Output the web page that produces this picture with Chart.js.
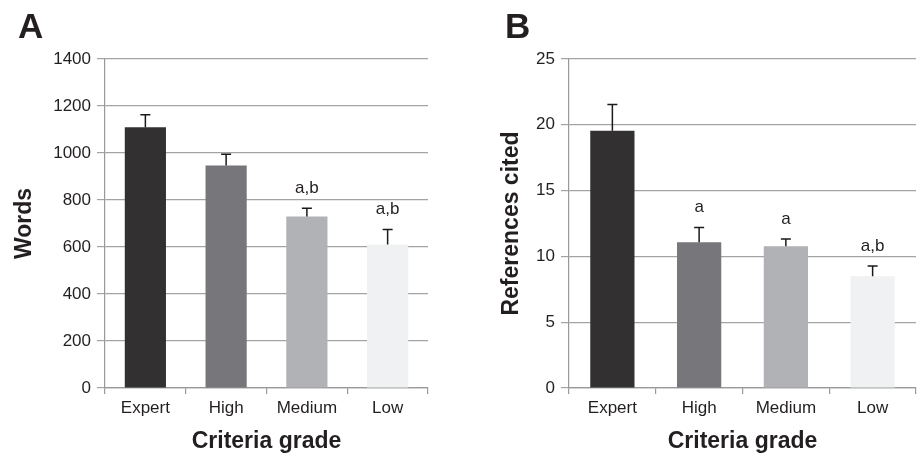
<!DOCTYPE html>
<html>
<head>
<meta charset="utf-8">
<script src="https://cdn.jsdelivr.net/npm/chart.js@4"></script>
<style>
  html, body { margin:0; padding:0; background:#fff; }
  body { width:924px; height:455px; position:relative; overflow:hidden; font-family:"Liberation Sans", Arial, sans-serif; }
  .panel { position:absolute; top:0; width:462px; height:455px; }
  .letter { position:absolute; font-weight:bold; font-size:35px; line-height:1; color:#231f20; }
</style>
</head>
<body>
<div class="panel" style="left:0"><canvas id="cA"></canvas></div>
<div class="panel" style="left:462px"><canvas id="cB"></canvas></div>
<div class="letter" style="left:18px; top:8px;">A</div>
<div class="letter" style="left:505px; top:8px;">B</div>
<script>
const categories = ['Expert', 'High', 'Medium', 'Low'];
const barColors = ['#323031', '#77777b', '#b1b2b5', '#f0f1f2'];

const wordsMean = [1110, 947, 730, 611];
const wordsErr  = [53, 48, 35, 64];
const wordsNotes = ['', '', 'a,b', 'a,b'];

const refsMean = [19.55, 11.07, 10.77, 8.49];
const refsErr  = [2.0, 1.13, 0.55, 0.78];
const refsNotes = ['', 'a', 'a', 'a,b'];

const textColor = '#231f20';
const gridColor = '#a3a3a3';
const FONT = '"Liberation Sans", Arial, sans-serif';

function errPlugin(errs, notes) {
  return {
    id: 'errbars',
    afterDatasetsDraw(chart) {
      const ctx = chart.ctx;
      const meta = chart.getDatasetMeta(0);
      const y = chart.scales.y;
      const vals = chart.data.datasets[0].data;
      ctx.save();
      ctx.strokeStyle = '#1a1a1a';
      ctx.lineWidth = 1.5;
      meta.data.forEach((bar, i) => {
        const top = y.getPixelForValue(vals[i] + errs[i]);
        const base = y.getPixelForValue(vals[i]);
        ctx.beginPath();
        ctx.moveTo(bar.x, base);
        ctx.lineTo(bar.x, top);
        ctx.moveTo(bar.x - 5, top);
        ctx.lineTo(bar.x + 5, top);
        ctx.stroke();
        if (notes[i]) {
          ctx.fillStyle = textColor;
          ctx.font = '17px ' + FONT;
          ctx.textAlign = 'center';
          ctx.textBaseline = 'middle';
          ctx.fillText(notes[i], bar.x, top - 20);
        }
      });
      ctx.restore();
    }
  };
}

function makeChart(id, values, errs, notes, yMax, yStep, yTitle, yWidth, titlePad, padRight) {
  return new Chart(document.getElementById(id), {
    type: 'bar',
    data: {
      labels: categories,
      datasets: [{
        data: values,
        backgroundColor: barColors,
        borderWidth: 0,
        categoryPercentage: 1,
        barPercentage: 0.51
      }]
    },
    options: {
      responsive: true,
      maintainAspectRatio: false,
      animation: false,
      events: [],
      layout: { padding: { top: 59, right: padRight, left: 0, bottom: 0 } },
      plugins: { legend: { display: false }, tooltip: { enabled: false } },
      scales: {
        x: {
          grid: { display: true, drawOnChartArea: false, drawTicks: true, tickLength: 6, color: '#999', lineWidth: 1.2, offset: true },
          border: { display: true, color: '#999', width: 1.2 },
          ticks: { color: textColor, font: { family: FONT, size: 17 }, padding: 4, maxRotation: 0 },
          title: { display: true, text: 'Criteria grade', color: textColor, font: { family: FONT, size: 23, weight: 'bold' }, padding: { top: 4, bottom: 0 } },
          afterFit: (s) => { s.height = 67; }
        },
        y: {
          min: 0, max: yMax,
          ticks: { stepSize: yStep, color: textColor, font: { family: FONT, size: 17 }, padding: 6,
                   callback: (v) => String(v) },
          grid: { color: gridColor, lineWidth: 1.2, tickLength: 8 },
          border: { display: true, color: '#999', width: 1.2 },
          title: { display: true, text: yTitle, color: textColor, font: { family: FONT, size: 23, weight: 'bold' }, padding: { top: titlePad, bottom: 0 } },
          afterFit: (s) => { s.width = yWidth; }
        }
      }
    },
    plugins: [errPlugin(errs, notes)]
  });
}

makeChart('cA', wordsMean, wordsErr, wordsNotes, 1400, 200, 'Words', 105, 11, 34);
makeChart('cB', refsMean, refsErr, refsNotes, 25, 5, 'References cited', 107, 36, 8);
</script>
</body>
</html>
